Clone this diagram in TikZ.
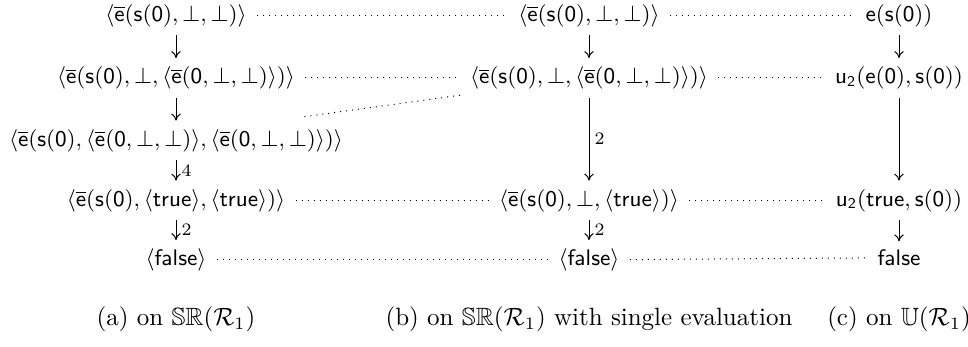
\documentclass[tikz,border=0pt]{standalone}
\usepackage{amssymb}
\usetikzlibrary{arrows.meta}
\newcommand{\ebar}{\overline{\mathsf{e}}}
\newcommand{\sz}{\mathsf{s}(\mathsf{0})}
\newcommand{\inner}{\langle\ebar(\mathsf{0},\bot,\bot)\rangle}
\tikzset{
  term/.style={font=\fontsize{8.9}{10.5}\selectfont, inner sep=2pt, anchor=base},
  captext/.style={font=\fontsize{10}{12}\selectfont, inner sep=0pt, anchor=base},
  link/.style={dotted, line width=0.4pt, shorten >=2pt, shorten <=2pt},
  redarrow/.style={-{Computer Modern Rightarrow[length=2.8pt,width=3.8pt]}, line width=0.4pt, shorten >=1.2pt, shorten <=1.2pt},
  lab/.style={font=\fontsize{7}{8}\selectfont, right, inner sep=2pt, midway}
}
\begin{document}
\begin{tikzpicture}[x=0.4pt,y=-0.4pt]
\useasboundingbox (0,0) rectangle (968,347);
% column (a)
\node[term] (a1) at (176,21) {$\langle\ebar(\sz,\bot,\bot)\rangle$};
\node[term] (a2) at (176,83.5) {$\langle\ebar(\sz,\bot,\inner)\rangle$};
\node[term] (a3) at (176,146) {$\langle\ebar(\sz,\inner,\inner)\rangle$};
\node[term] (a4) at (176,206) {$\langle\ebar(\sz,\langle\mathsf{true}\rangle,\langle\mathsf{true}\rangle)\rangle$};
\node[term] (a5) at (176,265.5) {$\langle\mathsf{false}\rangle$};
% column (b)
\node[term] (b1) at (589,21) {$\langle\ebar(\sz,\bot,\bot)\rangle$};
\node[term] (b2) at (589,83.5) {$\langle\ebar(\sz,\bot,\inner)\rangle$};
\node[term] (b4) at (589,206) {$\langle\ebar(\sz,\bot,\langle\mathsf{true}\rangle)\rangle$};
\node[term] (b5) at (589,265.5) {$\langle\mathsf{false}\rangle$};
% column (c)
\node[term] (c1) at (899,21) {$\mathsf{e}(\sz)$};
\node[term] (c2) at (899,83.5) {$\mathsf{u}_{\mathsf{2}}(\mathsf{e}(\mathsf{0}),\sz)$};
\node[term] (c4) at (899,206) {$\mathsf{u}_{\mathsf{2}}(\mathsf{true},\sz)$};
\node[term] (c5) at (899,265.5) {$\mathsf{false}$};
% reductions
\draw[redarrow] (a1) -- (a2);
\draw[redarrow] (a2) -- (a3);
\draw[redarrow] (a3) -- node[lab] {$4$} (a4);
\draw[redarrow] (a4) -- node[lab] {$2$} (a5);
\draw[redarrow] (b1) -- (b2);
\draw[redarrow] (b2) -- node[lab] {$2$} (b4);
\draw[redarrow] (b4) -- node[lab] {$2$} (b5);
\draw[redarrow] (c1) -- (c2);
\draw[redarrow] (c2) -- (c4);
\draw[redarrow] (c4) -- (c5);
% correspondences
\draw[link] (a1) -- (b1);
\draw[link] (b1) -- (c1);
\draw[link] (a2) -- (b2);
\draw[link] (b2) -- (c2);
\draw[link] (a4) -- (b4);
\draw[link] (b4) -- (c4);
\draw[link] (a5) -- (b5);
\draw[link] (b5) -- (c5);
\draw[link, shorten <=0pt, shorten >=1pt] ([xshift=-17.6pt,yshift=2.8pt]a3.north east) -- (b2.south west);
% captions
\node[captext] (capa) at (176,325.5) {(a) on $\mathbb{SR}(\mathcal{R}_1)$};
\node[captext] (capb) at (589,325.5) {(b) on $\mathbb{SR}(\mathcal{R}_1)$ with single evaluation};
\node[captext] (capc) at (899,325.5) {(c) on $\mathbb{U}(\mathcal{R}_1)$};
\end{tikzpicture}
\end{document}
